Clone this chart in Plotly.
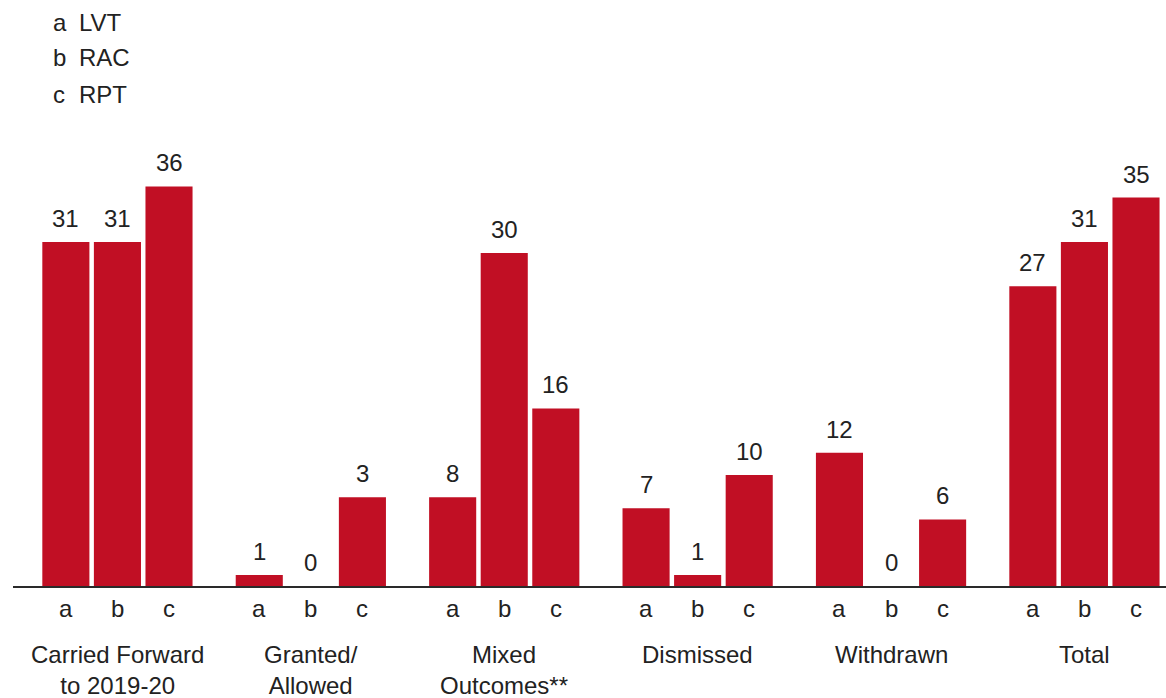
import plotly.graph_objects as go

groups = ["Carried Forward<br>to 2019-20", "Granted/<br>Allowed", "Mixed<br>Outcomes**",
          "Dismissed", "Withdrawn", "Total"]
series_letters = ["a", "b", "c"]
series_names = ["LVT", "RAC", "RPT"]
# bar heights as drawn in the reference
lvt = [31, 1, 8, 7, 12, 27]
rac = [31, 0, 30, 1, 0, 31]
rpt = [36, 8, 16, 10, 6, 35]
values = [lvt, rac, rpt]
# value labels as printed in the reference
lvt_labels = ["31", "1", "8", "7", "12", "27"]
rac_labels = ["31", "0", "30", "1", "0", "31"]
rpt_labels = ["36", "3", "16", "10", "6", "35"]
labels = [lvt_labels, rac_labels, rpt_labels]

RED = "#C10F24"
TXT = "#222222"
FONT = "Liberation Sans, Arial, sans-serif"
FS = 24

W, H = 1166, 698
ML, MR, MT, MB = 13, 0, 142, 112
plot_w = W - ML - MR
plot_h = H - MT - MB

BARGAP = 0.2
GROUPGAP = 0.087
slot = (1 - BARGAP) / 3

xs = list(range(len(groups)))
x0 = -0.54
x1 = x0 + plot_w / 193.4

fig = go.Figure()
for j in range(3):
    fig.add_trace(go.Bar(
        x=xs, y=values[j], name=series_names[j],
        marker=dict(color=RED, line=dict(width=0)),
        showlegend=False, hoverinfo="skip",
    ))

ann = []
for j in range(3):
    for i, v in enumerate(values[j]):
        xc = i + (j - 1) * slot
        ann.append(dict(x=xc, y=v, xref="x", yref="y", text=labels[j][i], showarrow=False,
                        yanchor="bottom", yshift=8, font=dict(size=FS, color=TXT, family=FONT)))
        ann.append(dict(x=xc, y=0, xref="x", yref="y", text=series_letters[j], showarrow=False,
                        yanchor="top", yshift=-7, font=dict(size=FS, color=TXT, family=FONT)))
for i, g in enumerate(groups):
    ann.append(dict(x=i, y=0, xref="x", yref="y", text=g, showarrow=False,
                    yanchor="top", yshift=-53, font=dict(size=FS, color=TXT, family=FONT)))

legend_y_px = [22, 58, 94]
for k in range(3):
    yp = (H - MB - legend_y_px[k]) / plot_h
    ann.append(dict(x=(51 - ML) / plot_w, y=yp, xref="paper", yref="paper",
                    text=series_letters[k], showarrow=False, xanchor="left", yanchor="middle",
                    font=dict(size=FS, color=TXT, family=FONT)))
    ann.append(dict(x=(77 - ML) / plot_w, y=yp, xref="paper", yref="paper",
                    text=series_names[k], showarrow=False, xanchor="left", yanchor="middle",
                    font=dict(size=FS, color=TXT, family=FONT)))

fig.update_layout(
    width=W, height=H,
    margin=dict(l=ML, r=MR, t=MT, b=MB, pad=0),
    barmode="group", bargap=BARGAP, bargroupgap=GROUPGAP,
    plot_bgcolor="white", paper_bgcolor="white",
    annotations=ann,
    font=dict(family=FONT, size=FS, color=TXT),
)
fig.update_xaxes(range=[x0, x1], showticklabels=False, showgrid=False, zeroline=False,
                 showline=True, linecolor="#2a2a2a", linewidth=1.5, ticks="")
fig.update_yaxes(range=[0, 40], visible=False, showgrid=False, zeroline=False)

fig.write_html("out.html")
